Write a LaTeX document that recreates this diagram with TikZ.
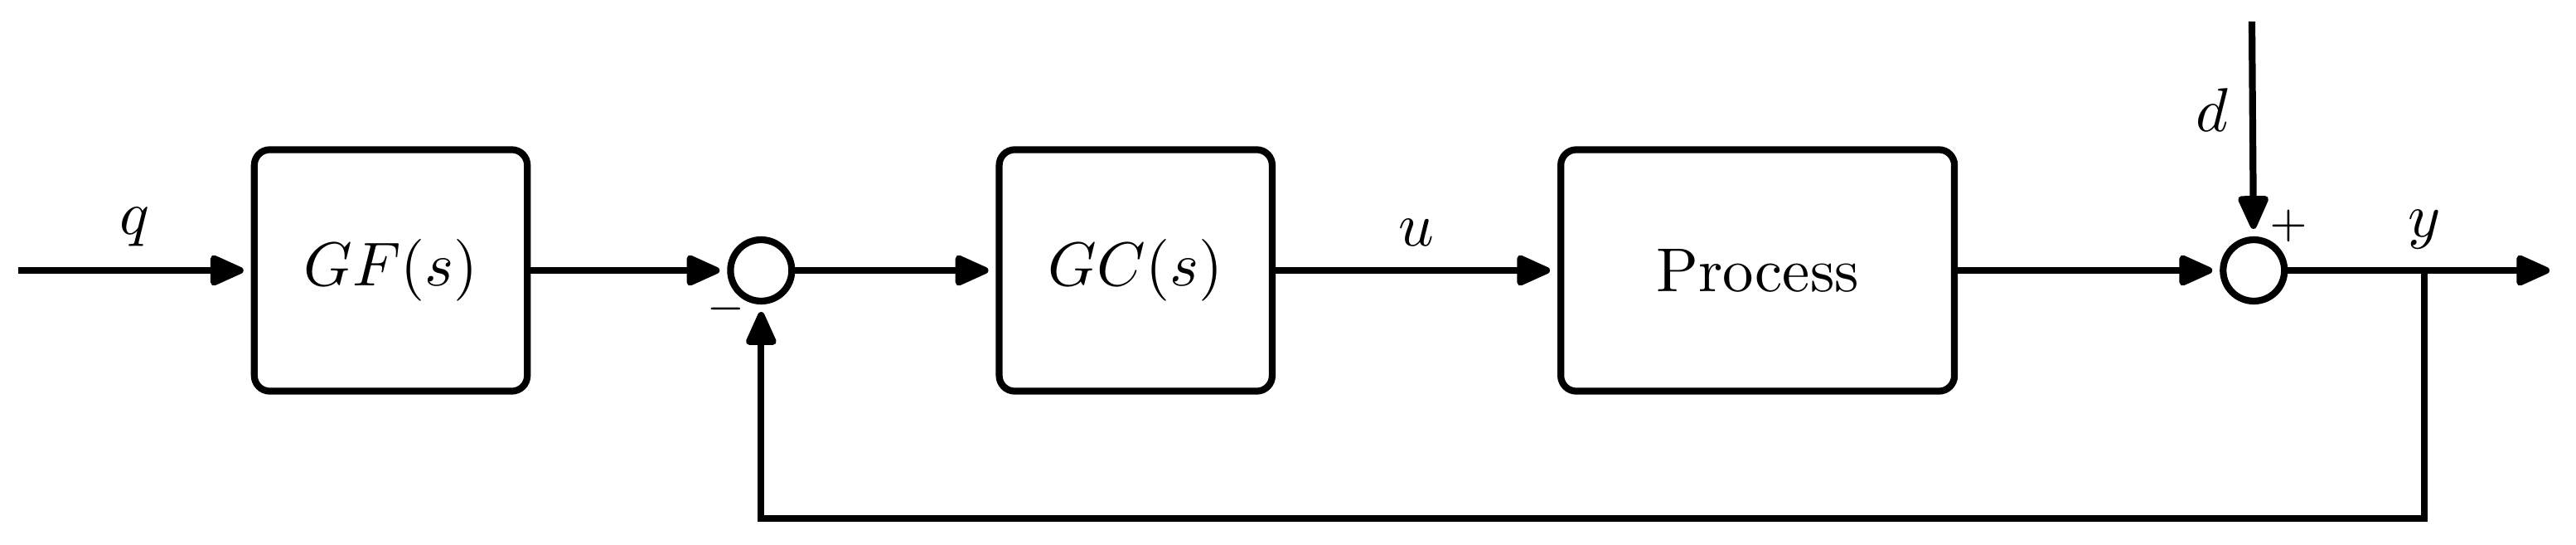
\documentclass[tikz,border=0pt]{standalone}
\usepackage{amsmath}
\usepackage{tikz}
\usetikzlibrary{arrows.meta,positioning}

\begin{document}
\begin{tikzpicture}[
  every node/.style={font=\normalsize},
  block/.style={draw, line width=1.1pt, rounded corners=2.5pt, align=center, inner sep=0pt, outer sep=0.55pt, minimum width=1.55cm, minimum height=1.37cm},
  junc/.style={draw, circle, line width=1.1pt, inner sep=0pt, outer sep=0.55pt, minimum size=0.348cm},
  sign/.style={font=\scriptsize, inner sep=0pt},
  arr/.style={-{Triangle[length=6.2pt, width=5.2pt, round]}, line width=1.1pt, shorten >=1.2pt},
  wire/.style={line width=1.1pt}
]
\useasboundingbox (0,-1.553) rectangle (14.626,1.534);

% Forward path
\coordinate (in) at (0.104,0);
\node[block] (GF) at (2.219,0) {$GF(s)$};
\node[junc, right=1.115cm of GF] (J1) {};
\node[block, right=1.139cm of J1] (GC) {$GC(s)$};
\node[block, right=1.60cm of GC, minimum width=2.235cm] (PR) {Process};
\node[junc, right=1.487cm of PR] (J2) {};
\coordinate (br) at (13.765,0);
\coordinate (out) at (14.518,0);
\coordinate (dist) at (12.786,1.412);

\draw[arr] (in) -- node[above] {$q$} (GF);
\draw[arr] (GF) -- (J1);
\draw[arr] (J1) -- (GC);
\draw[arr] (GC) -- node[above] {$u$} (PR);
\draw[arr] (PR) -- (J2);
\draw[arr] (J2) -- (out);
\node[above] at (br) {$y$};

% Disturbance
\draw[arr] (dist) -- node[left, pos=0.41] {$d$} (J2);

% Feedback
\draw[arr] (br) -- ++(0,-1.407) -| (J1);

% Signs
\node[sign] at ([shift={(-0.20,-0.22)}]J1) {$-$};
\node[sign] at ([shift={(0.20,0.25)}]J2) {$+$};
\end{tikzpicture}
\end{document}
